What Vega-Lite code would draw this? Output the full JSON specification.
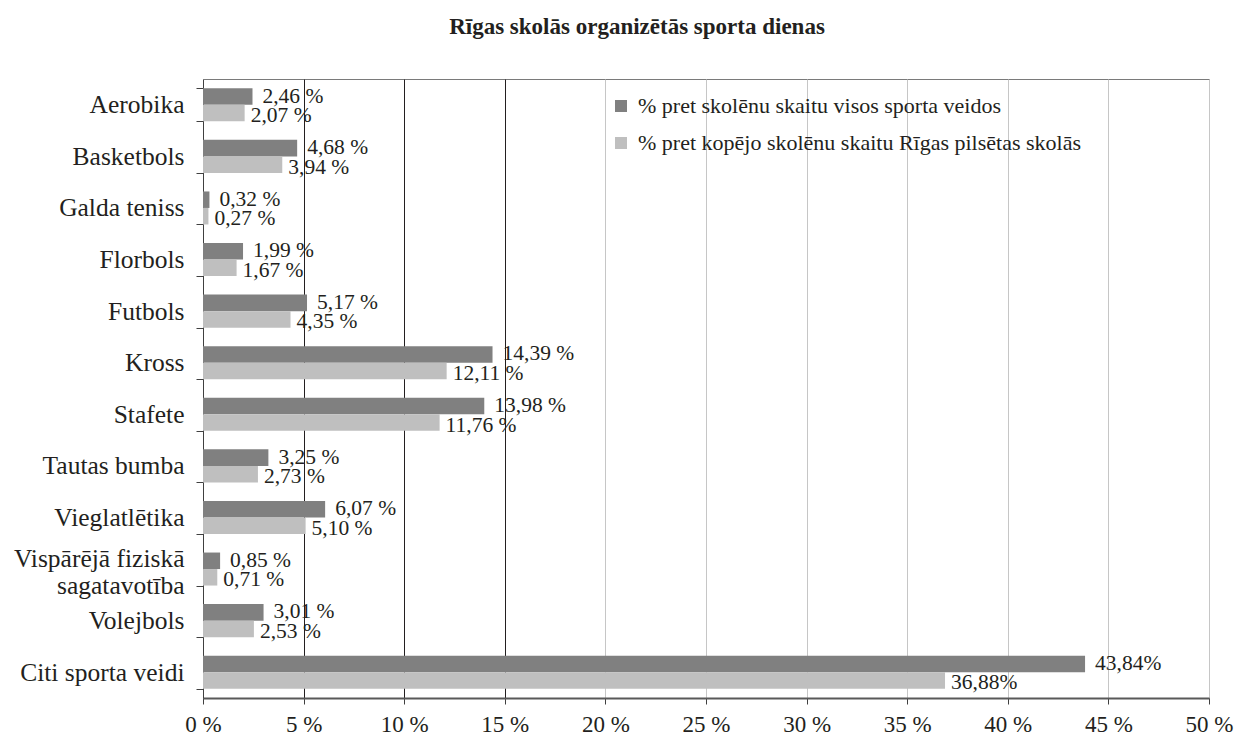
{
  "$schema": "https://vega.github.io/schema/vega-lite/v6.json",
  "autosize": {"type": "none"},
  "padding": {"left": 203, "top": 79, "right": 44, "bottom": 37},
  "width": 1006,
  "height": 619,
  "background": "white",
  "title": {
    "text": "Rīgas skolās organizētās sporta dienas",
    "font": "Liberation Serif",
    "fontSize": 23,
    "fontWeight": "bold",
    "color": "#231f20",
    "anchor": "middle",
    "dx": -69,
    "offset": 28
  },
  "config": {
    "font": "Liberation Serif",
    "view": {"stroke": "#7a7a7a", "strokeWidth": 1},
    "axis": {"labelFont": "Liberation Serif", "labelColor": "#231f20"},
    "legend": {"labelFont": "Liberation Serif", "labelColor": "#231f20"}
  },
  "data": {
    "values": [
      {"sports": "Aerobika", "series": "% pret skolēnu skaitu visos sporta veidos", "value": 2.46, "label": "2,46 %"},
      {"sports": "Aerobika", "series": "% pret kopējo skolēnu skaitu Rīgas pilsētas skolās", "value": 2.07, "label": "2,07 %"},
      {"sports": "Basketbols", "series": "% pret skolēnu skaitu visos sporta veidos", "value": 4.68, "label": "4,68 %"},
      {"sports": "Basketbols", "series": "% pret kopējo skolēnu skaitu Rīgas pilsētas skolās", "value": 3.94, "label": "3,94 %"},
      {"sports": "Galda teniss", "series": "% pret skolēnu skaitu visos sporta veidos", "value": 0.32, "label": "0,32 %"},
      {"sports": "Galda teniss", "series": "% pret kopējo skolēnu skaitu Rīgas pilsētas skolās", "value": 0.27, "label": "0,27 %"},
      {"sports": "Florbols", "series": "% pret skolēnu skaitu visos sporta veidos", "value": 1.99, "label": "1,99 %"},
      {"sports": "Florbols", "series": "% pret kopējo skolēnu skaitu Rīgas pilsētas skolās", "value": 1.67, "label": "1,67 %"},
      {"sports": "Futbols", "series": "% pret skolēnu skaitu visos sporta veidos", "value": 5.17, "label": "5,17 %"},
      {"sports": "Futbols", "series": "% pret kopējo skolēnu skaitu Rīgas pilsētas skolās", "value": 4.35, "label": "4,35 %"},
      {"sports": "Kross", "series": "% pret skolēnu skaitu visos sporta veidos", "value": 14.39, "label": "14,39 %"},
      {"sports": "Kross", "series": "% pret kopējo skolēnu skaitu Rīgas pilsētas skolās", "value": 12.11, "label": "12,11 %"},
      {"sports": "Stafete", "series": "% pret skolēnu skaitu visos sporta veidos", "value": 13.98, "label": "13,98 %"},
      {"sports": "Stafete", "series": "% pret kopējo skolēnu skaitu Rīgas pilsētas skolās", "value": 11.76, "label": "11,76 %"},
      {"sports": "Tautas bumba", "series": "% pret skolēnu skaitu visos sporta veidos", "value": 3.25, "label": "3,25 %"},
      {"sports": "Tautas bumba", "series": "% pret kopējo skolēnu skaitu Rīgas pilsētas skolās", "value": 2.73, "label": "2,73 %"},
      {"sports": "Vieglatlētika", "series": "% pret skolēnu skaitu visos sporta veidos", "value": 6.07, "label": "6,07 %"},
      {"sports": "Vieglatlētika", "series": "% pret kopējo skolēnu skaitu Rīgas pilsētas skolās", "value": 5.10, "label": "5,10 %"},
      {"sports": "Vispārējā fiziskā sagatavotība", "series": "% pret skolēnu skaitu visos sporta veidos", "value": 0.85, "label": "0,85 %"},
      {"sports": "Vispārējā fiziskā sagatavotība", "series": "% pret kopējo skolēnu skaitu Rīgas pilsētas skolās", "value": 0.71, "label": "0,71 %"},
      {"sports": "Volejbols", "series": "% pret skolēnu skaitu visos sporta veidos", "value": 3.01, "label": "3,01 %"},
      {"sports": "Volejbols", "series": "% pret kopējo skolēnu skaitu Rīgas pilsētas skolās", "value": 2.53, "label": "2,53 %"},
      {"sports": "Citi sporta veidi", "series": "% pret skolēnu skaitu visos sporta veidos", "value": 43.84, "label": "43,84%"},
      {"sports": "Citi sporta veidi", "series": "% pret kopējo skolēnu skaitu Rīgas pilsētas skolās", "value": 36.88, "label": "36,88%"}
    ]
  },
  "encoding": {
    "y": {
      "field": "sports",
      "type": "nominal",
      "sort": null,
      "scale": {"paddingInner": 0.36, "paddingOuter": 0.18},
      "axis": {
        "title": null,
        "labelFontSize": 25.5,
        "labelPadding": 12,
        "tickSize": 7,
        "tickBand": "extent",
        "tickColor": "#404040",
        "domainColor": "#404040",
        "labelLimit": 300,
        "labelLineHeight": 27,
        "labelOffset": {"condition": {"test": "datum.value == 'Vispārējā fiziskā sagatavotība'", "value": -11}, "value": 0},
        "labelExpr": "datum.value == 'Vispārējā fiziskā sagatavotība' ? ['Vispārējā fiziskā', 'sagatavotība'] : datum.value"
      }
    },
    "yOffset": {
      "field": "series",
      "type": "nominal",
      "sort": ["% pret skolēnu skaitu visos sporta veidos", "% pret kopējo skolēnu skaitu Rīgas pilsētas skolās"],
      "scale": {"paddingInner": 0, "paddingOuter": 0}
    }
  },
  "layer": [
    {
      "mark": {"type": "bar"},
      "encoding": {
        "x": {
          "field": "value",
          "type": "quantitative",
          "scale": {"domain": [0, 50], "nice": false},
          "axis": {
            "title": null,
            "values": [0, 5, 10, 15, 20, 25, 30, 35, 40, 45, 50],
            "labelExpr": "datum.value + ' %'",
            "labelFontSize": 23,
            "labelPadding": 9,
            "tickSize": 6,
            "tickColor": "#404040",
            "domainColor": "#595959",
            "domainWidth": 2,
            "labelFlush": false,
            "grid": true,
            "gridColor": {"condition": {"test": "datum.value > 0 && datum.value <= 15", "value": "#231f20"}, "value": "#c6c6c6"},
            "gridWidth": 1
          }
        },
        "color": {
          "field": "series",
          "type": "nominal",
          "scale": {
            "domain": ["% pret skolēnu skaitu visos sporta veidos", "% pret kopējo skolēnu skaitu Rīgas pilsētas skolās"],
            "range": ["#808080", "#bfbfbf"]
          },
          "legend": {
            "title": null,
            "orient": "none",
            "legendX": 407,
            "legendY": 16,
            "symbolType": "square",
            "symbolSize": 144,
            "symbolStrokeWidth": 0,
            "labelFontSize": 22,
            "labelOffset": 6,
            "rowPadding": 15,
            "labelLimit": 700
          }
        }
      }
    },
    {
      "transform": [{"filter": "datum.series == '% pret skolēnu skaitu visos sporta veidos'"}],
      "mark": {"type": "text", "align": "left", "baseline": "middle", "dx": 10, "dy": 0, "fontSize": 21.5, "color": "#231f20"},
      "encoding": {
        "x": {"field": "value", "type": "quantitative"},
        "text": {"field": "label", "type": "nominal"}
      }
    },
    {
      "transform": [{"filter": "datum.series != '% pret skolēnu skaitu visos sporta veidos'"}],
      "mark": {"type": "text", "align": "left", "baseline": "middle", "dx": 6, "dy": 3, "fontSize": 21.5, "color": "#231f20"},
      "encoding": {
        "x": {"field": "value", "type": "quantitative"},
        "text": {"field": "label", "type": "nominal"}
      }
    }
  ]
}
